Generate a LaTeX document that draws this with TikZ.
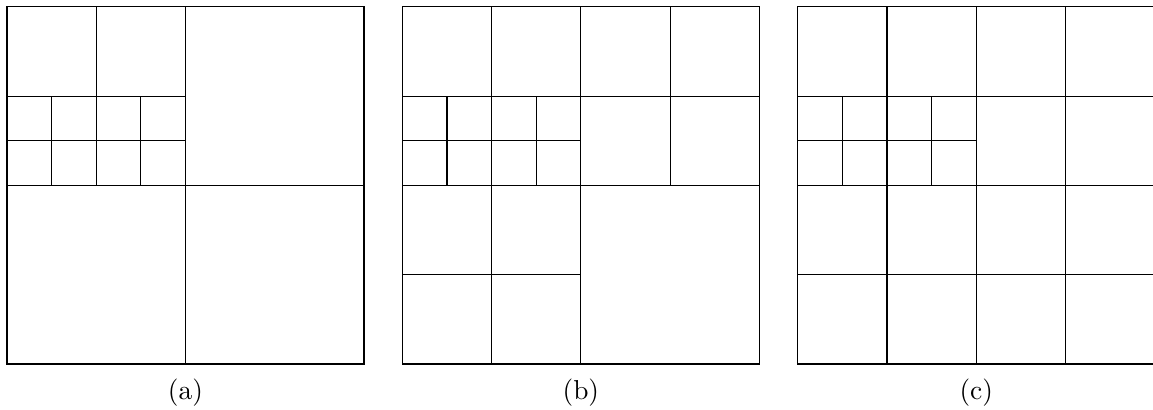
\documentclass[tikz,border=0pt]{standalone}
\usepackage{amsmath}
\usepackage{tikz}

\begin{document}
\begin{tikzpicture}[x=1.145cm,y=1.145cm,sublabel/.style={inner sep=0pt}]
            \useasboundingbox (-0.078,-0.515) rectangle (12.84,4.078);

            % (a)
            \begin{scope}
                \draw (0,0) rectangle (4,4);
                \draw (2,0) -- (2,4);
                \draw (0,2) -- (4,2);
                \draw (1,3) -- (1,4);
                \draw (0,3) -- (2,3);
                \draw (0,2.5) -- (2,2.5);
                \foreach \x in {0.5,1,1.5}{
                    \draw (\x,2) -- (\x,3);
                }
                \node[sublabel] (capa) at (2,-0.325) {(a)};
            \end{scope}

            % (b)
            \begin{scope}[shift={(4.43,0)}]
                \draw (0,0) rectangle (4,4);
                \draw (2,0) -- (2,4);
                \draw (1,0) -- (1,2);
                \draw (1,3) -- (1,4);
                \draw (3,2) -- (3,4);
                \draw (0,1) -- (2,1);
                \draw (0,2) -- (4,2);
                \draw (0,3) -- (4,3);
                \draw (0,2.5) -- (2,2.5);
                \foreach \x in {0.5,1,1.5}{
                    \draw (\x,2) -- (\x,3);
                }
                \node[sublabel] (capb) at (2,-0.325) {(b)};
            \end{scope}

            % (c)
            \begin{scope}[shift={(8.86,0)}]
                \draw (0,0) rectangle (4,4);
                \foreach \t in {1,2,3}{
                    \draw (\t,0) -- (\t,4);
                }
                \draw (0,1) -- (4,1);
                \draw (0,2) -- (4,2);
                \draw (0,3) -- (4,3);
                \draw (0,2.5) -- (2,2.5);
                \foreach \x in {0.5,1.5}{
                    \draw (\x,2) -- (\x,3);
                }
                \node[sublabel] (capc) at (2,-0.325) {(c)};
            \end{scope}
        \end{tikzpicture}
\end{document}
